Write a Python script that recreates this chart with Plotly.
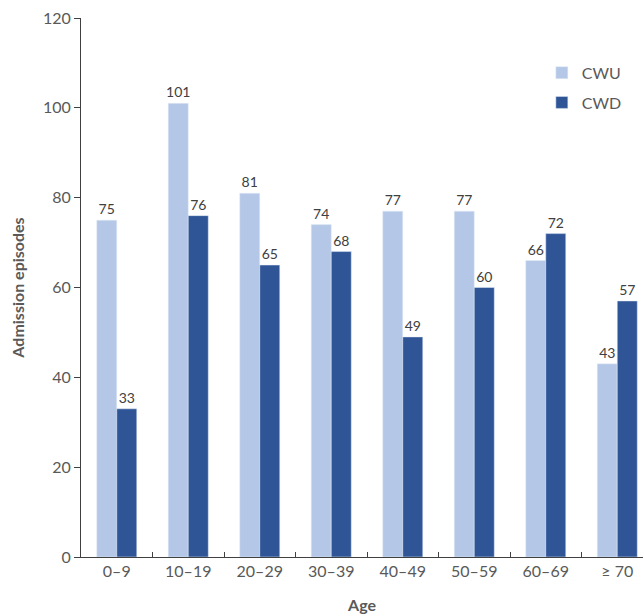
import plotly.graph_objects as go

ages = ["0\u20139", "10\u201319", "20\u201329", "30\u201339", "40\u201349", "50\u201359", "60\u201369", "\u2265 70"]
cwu = [75, 101, 81, 74, 77, 77, 66, 43]
cwd = [33, 76, 65, 68, 49, 60, 72, 57]

FONT = "Lato"
GREY = "#595959"

fig = go.Figure()
fig.add_trace(go.Bar(x=ages, y=cwu, name="CWU", marker_color="#B4C7E7",
                     text=cwu, textposition="outside", cliponaxis=False,
                     constraintext="none", legendgroup="a",
                     textfont=dict(size=14, color="#404040", family=FONT)))
fig.add_trace(go.Bar(x=ages, y=cwd, name="CWD", marker_color="#2F5597",
                     text=cwd, textposition="outside", cliponaxis=False,
                     constraintext="none", legendgroup="b",
                     textfont=dict(size=14, color="#404040", family=FONT)))

fig.update_layout(
    width=643, height=616,
    margin=dict(l=81, r=0, t=18, b=59),
    paper_bgcolor="white", plot_bgcolor="white",
    barmode="group", bargap=0.44, bargroupgap=0,
    font=dict(family=FONT, color=GREY, size=16),
    showlegend=True,
    legend=dict(x=0.82, y=0.93, xanchor="left", yanchor="top",
                font=dict(size=16, color=GREY), traceorder="grouped",
                tracegroupgap=6, bgcolor="rgba(0,0,0,0)"),
    xaxis=dict(
        type="category", range=[-0.5, 7.36],
        showline=True, linecolor="#404040", linewidth=1,
        ticks="inside", tickson="boundaries", ticklen=5, tickcolor="#404040",
        showgrid=False, tickfont=dict(size=16, color=GREY),
        title=dict(text="<b>Age</b>", font=dict(size=16, color=GREY), standoff=20),
    ),
    yaxis=dict(
        range=[0, 120], dtick=20,
        showline=True, linecolor="#404040", linewidth=1,
        ticks="outside", ticklen=6, tickcolor="#404040",
        showgrid=False, zeroline=False, tickfont=dict(size=16, color=GREY),
        title=dict(text="<b>Admission episodes</b>", font=dict(size=16, color=GREY), standoff=14),
    ),
)

fig.write_html("out.html")
